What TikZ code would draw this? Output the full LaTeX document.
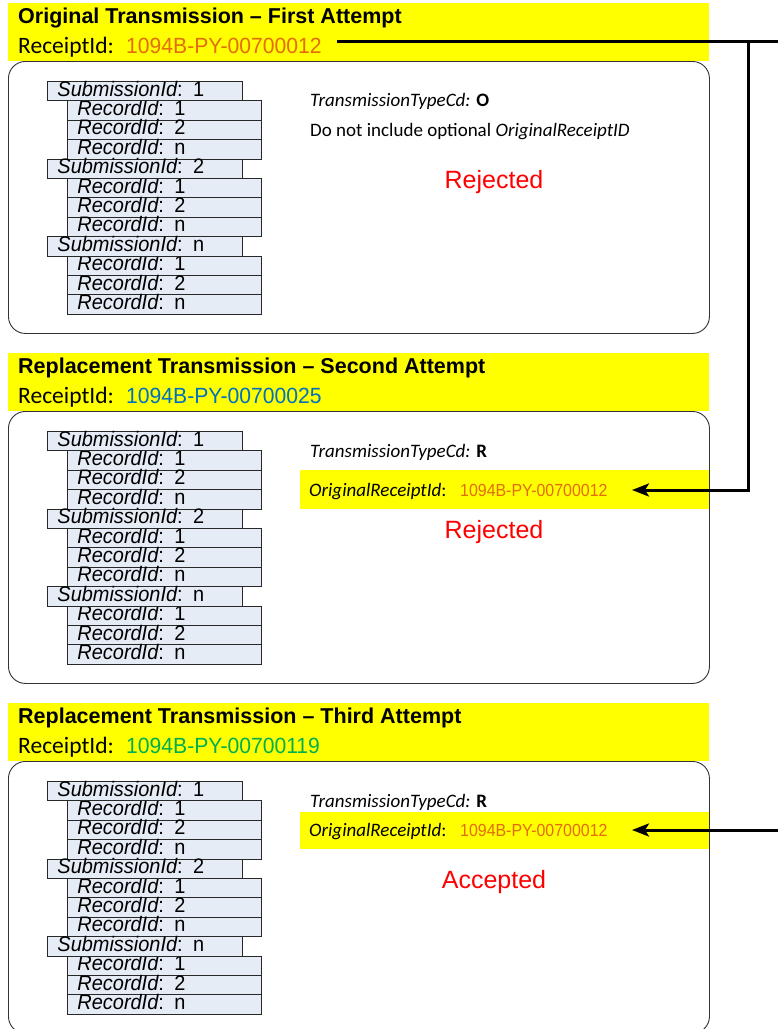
\documentclass[tikz,border=0pt]{standalone}
\usepackage{fontspec}
\setmainfont{Liberation Sans}
\newfontfamily\calfont{Carlito}
\newfontfamily\bignumfam{Liberation Sans}[FakeStretch=0.96]
\newfontfamily\smallnumfam{Liberation Sans}[FakeStretch=0.91]
\newfontfamily\stackfam{Liberation Sans}[FakeStretch=0.95]
\usetikzlibrary{arrows.meta}
\definecolor{ylw}{RGB}{255,255,0}
\definecolor{boxfill}{RGB}{230,236,246}
\definecolor{boxline}{RGB}{40,40,40}
\definecolor{orangeid}{RGB}{228,108,10}
\definecolor{blueid}{RGB}{0,112,192}
\definecolor{greenid}{RGB}{0,176,80}
\definecolor{statred}{RGB}{255,0,0}
\tikzset{
  stackbox/.style={draw=boxline, line width=0.9pt, fill=boxfill, anchor=north west,
    text height=14pt, text depth=4.2pt, inner ysep=0.6pt, inner xsep=10pt, align=left,
    font=\stackfam\fontsize{21}{22}\selectfont},
  recbox/.style={stackbox, text width=174pt},
  subbox/.style={stackbox, text width=175pt},
  frame/.style={draw=black!80, line width=0.9pt, rounded corners=17pt, anchor=north west,
    minimum width=701pt, minimum height=272pt, inner sep=0pt, fill=white},
  headband/.style={fill=ylw, anchor=north west, minimum width=701pt, minimum height=58pt, inner sep=0pt},
  band/.style={fill=ylw, anchor=north west, minimum width=409pt, inner sep=0pt},
  txt/.style={anchor=base west, inner sep=0pt},
  titletxt/.style={txt, font=\fontsize{21.5}{24}\selectfont\bfseries},
  ridlabel/.style={txt, font=\calfont\fontsize{23.5}{26}\selectfont},
  ridnum/.style={txt, font=\bignumfam\fontsize{22}{24}\selectfont},
  righttxt/.style={txt, font=\calfont\fontsize{19}{21}\selectfont},
  smallnum/.style={txt, font=\smallnumfam\fontsize{17.5}{20}\selectfont, text=orangeid},
  status/.style={anchor=base, inner sep=0pt, text=statred, font=\fontsize{25}{28}\selectfont},
  conn/.style={line width=3pt, draw=black},
  tip/.style={-{Stealth[length=17pt, width=13pt, inset=4pt]}}
}
\newcommand\mkstack[2]{%
  \foreach \s/\sl in {0/1,1/2,2/n}{%
    \foreach \r/\rl in {1/1,2/2,3/n}{%
      \pgfmathsetmacro\yy{#2+(\s*4+\r)*19.4}%
      \node[recbox] (#1s\s r\r) at (67,\yy) {{\itshape RecordId}: \rl};
    }%
    \pgfmathsetmacro\yy{#2+\s*4*19.4}%
    \node[subbox] (#1s\s) at (47,\yy) {{\itshape SubmissionId}: \sl};
  }%
}
\newcommand\mkpanel[5]{%
  \node[frame] (#1frame) at (8,#2+58) {};
  \node[headband] (#1head) at (8,#2) {};
  \node[titletxt] (#1title) at (18,#2+20) {#3};
  \node[ridlabel] (#1rl) at (18,#2+50) {ReceiptId:};
  \node[ridnum, text=#5] (#1rid) at (126,#2+50) {#4};
  \mkstack{#1}{#2+78}
}
\begin{document}
\begin{tikzpicture}[x=1pt, y=-1pt]
\useasboundingbox (0,0) rectangle (778,1029);

% Panel 1
\mkpanel{pa}{3}{Original Transmission -- First Attempt}{1094B-PY-00700012}{orangeid}
\node[righttxt] (patype) at (310,106) {{\itshape TransmissionTypeCd:} \textbf{O}};
\node[righttxt] (panote) at (310,136) {Do not include optional {\itshape OriginalReceiptID}};
\node[status] (pastat) at (494,188) {Rejected};

% Panel 2
\mkpanel{pb}{353}{Replacement Transmission -- Second Attempt}{1094B-PY-00700025}{blueid}
\node[righttxt] (pbtype) at (310,457) {{\itshape TransmissionTypeCd:} \textbf{R}};
\node[band, minimum height=39pt] (pbband) at (300,470) {};
\node[righttxt] (pborig) at (309,496) {{\itshape OriginalReceiptId}:};
\node[smallnum] (pbnum) at (460,496) {1094B-PY-00700012};
\node[status] (pbstat) at (494,538) {Rejected};

% Panel 3
\mkpanel{pc}{703}{Replacement Transmission -- Third Attempt}{1094B-PY-00700119}{greenid}
\node[righttxt] (pctype) at (310,807) {{\itshape TransmissionTypeCd:} \textbf{R}};
\node[band, minimum height=37pt] (pcband) at (300,812) {};
\node[righttxt] (pcorig) at (309,836) {{\itshape OriginalReceiptId}:};
\node[smallnum] (pcnum) at (460,836) {1094B-PY-00700012};
\node[status] (pcstat) at (494,888) {Accepted};

% Connectors
\coordinate (jn) at (748,41.7);
\coordinate (edgeA) at (778,41.7);
\coordinate (tipB) at (632,490);
\coordinate (edgeC) at (778,830);
\coordinate (tipC) at (632,830);
\path ([xshift=15pt]parid.east) coordinate (startA);
\draw[conn] (startA |- edgeA) -- (edgeA);
\draw[conn, tip] (jn) |- (tipB);
\draw[conn, tip] (edgeC) -- (tipC);
\end{tikzpicture}
\end{document}
